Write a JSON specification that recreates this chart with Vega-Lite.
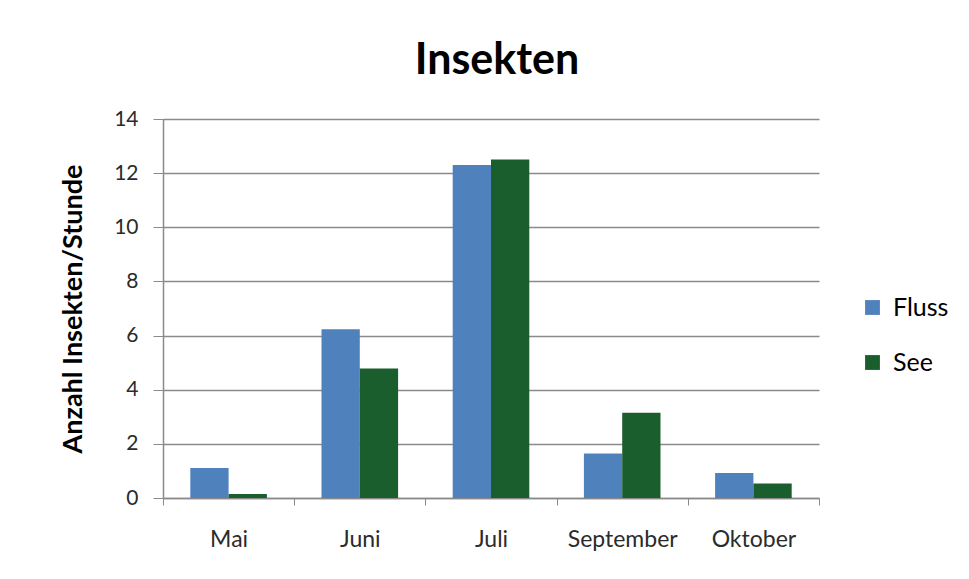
{
  "$schema": "https://vega.github.io/schema/vega-lite/v6.json",
  "autosize": {"type": "none"},
  "padding": {"left": 163, "top": 119, "right": 150, "bottom": 81},
  "width": 656,
  "height": 379,
  "background": "white",
  "title": {
    "text": "Insekten",
    "font": "Lato",
    "fontSize": 43,
    "fontWeight": "bold",
    "color": "#000000",
    "anchor": "middle",
    "frame": "group",
    "offset": 25,
    "dx": 6
  },
  "data": {
    "values": [
      {"Monat": "Mai", "Gewässer": "Fluss", "Wert": 1.11},
      {"Monat": "Mai", "Gewässer": "See", "Wert": 0.15},
      {"Monat": "Juni", "Gewässer": "Fluss", "Wert": 6.23},
      {"Monat": "Juni", "Gewässer": "See", "Wert": 4.78},
      {"Monat": "Juli", "Gewässer": "Fluss", "Wert": 12.3},
      {"Monat": "Juli", "Gewässer": "See", "Wert": 12.5},
      {"Monat": "September", "Gewässer": "Fluss", "Wert": 1.64},
      {"Monat": "September", "Gewässer": "See", "Wert": 3.15},
      {"Monat": "Oktober", "Gewässer": "Fluss", "Wert": 0.92},
      {"Monat": "Oktober", "Gewässer": "See", "Wert": 0.54}
    ]
  },
  "mark": {"type": "bar"},
  "encoding": {
    "x": {
      "field": "Monat",
      "type": "nominal",
      "sort": ["Mai", "Juni", "Juli", "September", "Oktober"],
      "scale": {"paddingInner": 0, "paddingOuter": 0},
      "axis": {
        "title": null,
        "labelAngle": 0,
        "labelFont": "Lato",
        "labelFontSize": 23,
        "labelColor": "#2b2b2b",
        "labelPadding": 23,
        "tickBand": "extent",
        "tickSize": 7,
        "tickColor": "#8a8a8a",
        "domainColor": "#8a8a8a",
        "domainWidth": 1.5,
        "grid": false
      }
    },
    "xOffset": {
      "field": "Gewässer",
      "type": "nominal",
      "scale": {"paddingInner": 0, "paddingOuter": 0.713}
    },
    "y": {
      "field": "Wert",
      "type": "quantitative",
      "scale": {"domain": [0, 14], "nice": false},
      "axis": {
        "title": "Anzahl Insekten/Stunde",
        "titleFont": "Lato",
        "titleFontSize": 27,
        "titleFontWeight": "bold",
        "titleColor": "#000000",
        "titlePadding": 26,
        "values": [0, 2, 4, 6, 8, 10, 12, 14],
        "labelFont": "Lato",
        "labelFontSize": 21,
        "labelColor": "#2b2b2b",
        "labelPadding": 15,
        "tickSize": 10,
        "tickColor": "#8a8a8a",
        "domainColor": "#8a8a8a",
        "domainWidth": 1.5,
        "gridColor": "#8a8a8a",
        "gridWidth": 1.5
      }
    },
    "color": {
      "field": "Gewässer",
      "type": "nominal",
      "scale": {"domain": ["Fluss", "See"], "range": ["#4f81bd", "#1b5e2d"]},
      "legend": {
        "title": null,
        "orient": "none",
        "legendX": 697,
        "legendY": 176,
        "symbolType": "square",
        "symbolSize": 220,
        "symbolStrokeWidth": 0,
        "labelFont": "Lato",
        "labelFontSize": 25,
        "labelColor": "#000000",
        "labelOffset": 8,
        "rowPadding": 29
      }
    }
  },
  "config": {
    "view": {"stroke": null}
  }
}
